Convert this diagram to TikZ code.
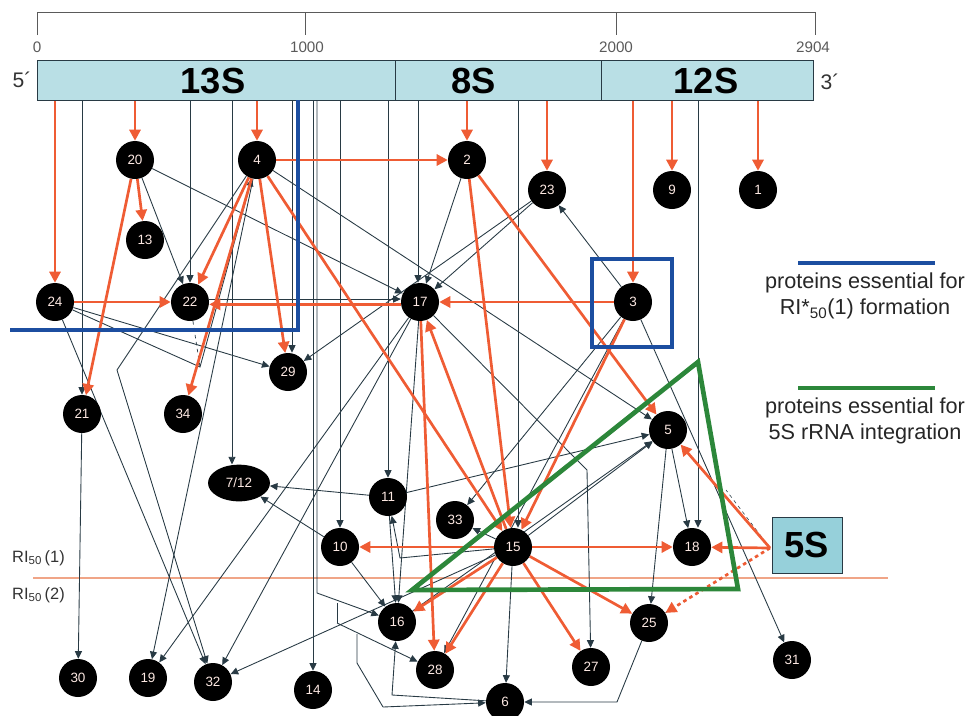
\documentclass[tikz,border=0pt]{standalone}
\usepackage{fontspec}
\setmainfont{Liberation Sans}
\usetikzlibrary{arrows.meta,shapes.geometric}
\definecolor{cOr}{RGB}{239,92,52}
\definecolor{cDk}{RGB}{40,58,68}
\definecolor{cBar}{RGB}{185,223,229}
\definecolor{cBox}{RGB}{150,208,218}
\definecolor{cBlue}{RGB}{28,78,160}
\definecolor{cGreen}{RGB}{44,135,58}
\definecolor{cRI}{RGB}{240,165,135}
\definecolor{cTxt}{RGB}{252,232,226}
\definecolor{cRul}{RGB}{90,90,90}
\pgfdeclarelayer{bg}
\pgfsetlayers{bg,main}
\begin{document}
\begin{tikzpicture}[x=0.03cm,y=-0.03cm,
  prot/.style={circle,fill=black,text=cTxt,font=\fontsize{11.5}{12}\selectfont,minimum size=1.14cm,inner sep=0pt},
  darr/.style={draw=cDk,line width=0.75pt,-{Triangle[length=6.5pt,width=6pt]}},
  dline/.style={draw=cDk,line width=0.75pt},
  oarr/.style={draw=cOr,line width=2.3pt,-{Triangle[length=9.5pt,width=9.5pt]}},
  rul/.style={draw=cRul,line width=0.8pt},
  rlab/.style={text=cRul,font=\fontsize{13}{14}\selectfont,inner sep=0pt},
  leg/.style={font=\fontsize{18.5}{22}\selectfont,align=center,text=black!85},
]
\useasboundingbox (0,0) rectangle (970,715);

% ruler
\draw[rul] (37,35) -- (37,12) -- (815,12) -- (815,35);
\draw[rul] (305,12) -- (305,35);
\draw[rul] (616,12) -- (616,35);
\node[rlab] (t0) at (37,47) {0};
\node[rlab] (t1000) at (307,47) {1000};
\node[rlab] (t2000) at (616,47) {2000};
\node[rlab] (t2904) at (813,47) {2904};

% rRNA bar
\node[draw=cDk,fill=cBar,line width=0.8pt,minimum width=23.28cm,minimum height=1.2cm,inner sep=0pt] (bar) at (425,80) {};
\coordinate (sep1a) at (395,60); \coordinate (sep1b) at (395,100);
\coordinate (sep2a) at (601,60); \coordinate (sep2b) at (601,100);
\draw[cDk,line width=0.8pt] (sep1a) -- (sep1b);
\draw[cDk,line width=0.8pt] (sep2a) -- (sep2b);
\node[font=\fontsize{31}{32}\selectfont\bfseries] (l13) at (213,81) {13S};
\node[font=\fontsize{31}{32}\selectfont\bfseries] (l8) at (474,81) {8S};
\node[font=\fontsize{31}{32}\selectfont\bfseries] (l12) at (706,81) {12S};
\node[font=\fontsize{18}{20}\selectfont,text=black!80] (p5) at (22,80) {5´};
\node[font=\fontsize{18}{20}\selectfont,text=black!80] (p3) at (830,82) {3´};

% proteins
\node[prot] (20) at (135,160) {20};
\node[prot] (4) at (257,160) {4};
\node[prot] (2) at (467,160) {2};
\node[prot] (23) at (547,190) {23};
\node[prot] (9) at (672,190) {9};
\node[prot] (1) at (758,190) {1};
\node[prot] (13) at (145,240) {13};
\node[prot] (24) at (55,302) {24};
\node[prot] (22) at (190,302) {22};
\node[prot] (17) at (420,302) {17};
\node[prot] (3) at (633,302) {3};
\node[prot] (29) at (288,372) {29};
\node[prot] (21) at (82,414) {21};
\node[prot] (34) at (183,414) {34};
\node[prot] (5) at (668,430) {5};
\node[ellipse,fill=black,text=cTxt,font=\fontsize{11.5}{12}\selectfont,minimum width=1.86cm,minimum height=1.1cm,inner sep=0pt] (e712) at (239,483) {7/12};
\node[prot] (11) at (388,497) {11};
\node[prot] (33) at (455,520) {33};
\node[prot] (10) at (340,547) {10};
\node[prot] (15) at (513,547) {15};
\node[prot] (18) at (692,547) {18};
\node[prot] (16) at (397,622) {16};
\node[prot] (25) at (649,623) {25};
\node[prot] (28) at (435,670) {28};
\node[prot] (27) at (591,667) {27};
\node[prot] (6) at (505,702) {6};
\node[prot] (30) at (78,678) {30};
\node[prot] (19) at (148,678) {19};
\node[prot] (32) at (213,682) {32};
\node[prot] (14) at (313,690) {14};
\node[prot] (31) at (792,660) {31};
\node[draw=cDk,fill=cBox,line width=0.8pt,minimum width=2.1cm,minimum height=1.68cm,inner sep=0pt,font=\fontsize{31}{32}\selectfont\bfseries] (s5) at (807,545) {5S};

% coordinates on the bar and bends
\foreach \x in {55,82,135,190,232,257,292,313,317,340,388,418,467,518,547,633,672,698,758}{\coordinate (b\x) at (\x,100);}
\coordinate (c317) at (317,593);
\coordinate (br1) at (337,603);
\coordinate (br1b) at (337,623);
\coordinate (br2) at (357,634);
\coordinate (br2b) at (357,663);
\coordinate (br2c) at (383,707);
\coordinate (c4a) at (117,370);
\coordinate (c24a) at (200,367);
\coordinate (c17a) at (587,470);
\coordinate (c15a) at (400,558);
\coordinate (c25a) at (617,702);
\coordinate (c6a) at (392,695);
\coordinate (c5s) at (770,548);
\coordinate (c5sb) at (726,490);

\begin{pgfonlayer}{bg}
% RI50 boundary
\draw[cRI,line width=1pt] (33,578) -- (888,578);
% dark edges from the bar
\draw[darr] (b82) -- (21);
\draw[darr] (b190) -- (22);
\draw[darr] (b232) -- (b232 |- e712.north);
\draw[darr] (b292) -- (b292 |- 29.north);
\draw[darr] (b313) -- (14);
\draw[darr] (b317) -- (c317) -- (16);
\draw[dline] (br1) -- (br1b);
\draw[darr] (br1b) -- (28);
\draw[dline] (br2) -- (br2b) -- (br2c);
\draw[darr] (br2c) -- (6);
\draw[darr] (b340) -- (10);
\draw[darr] (b388) -- (11);
\draw[darr] (b418) -- (b418 |- 17.north);
\draw[darr] (b518) -- (b518 |- 15.north);
\draw[darr] (b698) -- (b698 |- 18.north);
% other dark edges
\draw[darr] (20) -- (22);
\draw[darr] (20) -- (17);
\draw[darr] ([yshift=2.5pt]22.east) -- ([yshift=2.5pt]17.west);
\draw[darr] (2) -- (17);
\draw[darr] (23) -- (17);
\draw[darr] (23) -- (29);
\draw[darr] (3) -- (23);
\draw[darr] (3) -- (33);
\draw[darr] (3) -- (28);
\draw[darr] (3) -- (31);
\draw[darr] (4) -- (5);
\draw[darr] (4) -- (19);
\draw[darr] (4) -- (c4a) -- (32);
\draw[darr] (24) -- (29);
\draw[darr] (24) -- (32);
\draw[darr] (24) -- (c24a) -- (4);
\draw[dline,dashed,line width=0.6pt] (22) -- (c24a);
\draw[darr] (21) -- (30);
\draw[darr] (17) -- (19);
\draw[darr] (17) -- (32);
\draw[darr] (17) -- (16);
\draw[darr] (17) -- (c17a) -- (27);
\draw[darr] (11) -- (e712);
\draw[darr] (10) -- (e712);
\draw[darr] (11) -- (16);
\draw[darr] (11) -- (5);
\draw[darr] (10) -- (16);
\draw[darr] (15) -- (c15a) -- (11);
\draw[darr] (15) -- (33);
\draw[darr] (15) -- (5);
\draw[darr] (15) -- (32);
\draw[darr] (15) -- (6);
\draw[darr] (16) -- (5);
\draw[darr] (5) -- (18);
\draw[darr] (5) -- (25);
\draw[darr] (25) -- (c25a) -- (6);
\draw[darr] (6) -- (c6a) -- (16);
\draw[dline,dashed,line width=0.5pt] (c5s) -- (25);
\draw[dline,dashed,line width=0.5pt] (c5s) -- (c5sb);
% orange edges
\draw[oarr] (b55) -- (24);
\draw[oarr] (b135) -- (20);
\draw[oarr] (b257) -- (4);
\draw[oarr] (b467) -- (2);
\draw[oarr] (b547) -- (23);
\draw[oarr] (b633) -- (3);
\draw[oarr] (b672) -- (9);
\draw[oarr] (b758) -- (1);
\draw[oarr] (20) -- (13);
\draw[oarr] (20) -- (21);
\draw[oarr] (4) -- (2);
\draw[oarr] (4) -- (22);
\draw[oarr] (4) -- (29);
\draw[oarr] (4) -- (34);
\draw[oarr] (4) -- (15);
\draw[oarr] (24) -- (22);
\draw[oarr] ([yshift=-2pt]17.west) -- ([yshift=-2pt]22.east);
\draw[oarr] (3) -- (17);
\draw[oarr] (2) -- (15);
\draw[oarr] (2) -- (5);
\draw[oarr] (3) -- (15);
\draw[oarr] (15) -- (17);
\draw[oarr] (17) -- (28);
\draw[oarr] (15) -- (10);
\draw[oarr] (15) -- (18);
\draw[oarr] (15) -- (16);
\draw[oarr] (15) -- (28);
\draw[oarr] (15) -- (27);
\draw[oarr] (15) -- (25);
\draw[oarr] (c5s) -- (18);
\draw[oarr] (c5s) -- (5);
\draw[oarr,dashed] (c5s) -- (25);
\end{pgfonlayer}

% blue and green outlines
\draw[cBlue,line width=3.4pt] (298,100) -- (298,330) -- (10,330);
\draw[cBlue,line width=2.8pt] (592,259) rectangle (672,347);
\draw[cGreen,line width=4pt,line join=miter] (412,590) -- (698,362) -- (738,589) -- cycle;

% RI labels
\node[anchor=west,font=\fontsize{14}{16}\selectfont,text=black!80,inner sep=0pt] (ri1) at (12,558) {RI\textsubscript{50}\,(1)};
\node[anchor=west,font=\fontsize{14}{16}\selectfont,text=black!80,inner sep=0pt] (ri2) at (12,595) {RI\textsubscript{50}\,(2)};

% legend
\draw[cBlue,line width=4pt] (798,263) -- (935,263);
\node[leg] (lg1) at (865,296) {proteins essential for\\RI*\textsubscript{50}(1) formation};
\draw[cGreen,line width=4pt] (798,388) -- (935,388);
\node[leg] (lg2) at (865,421) {proteins essential for\\5S rRNA integration};
\end{tikzpicture}
\end{document}
